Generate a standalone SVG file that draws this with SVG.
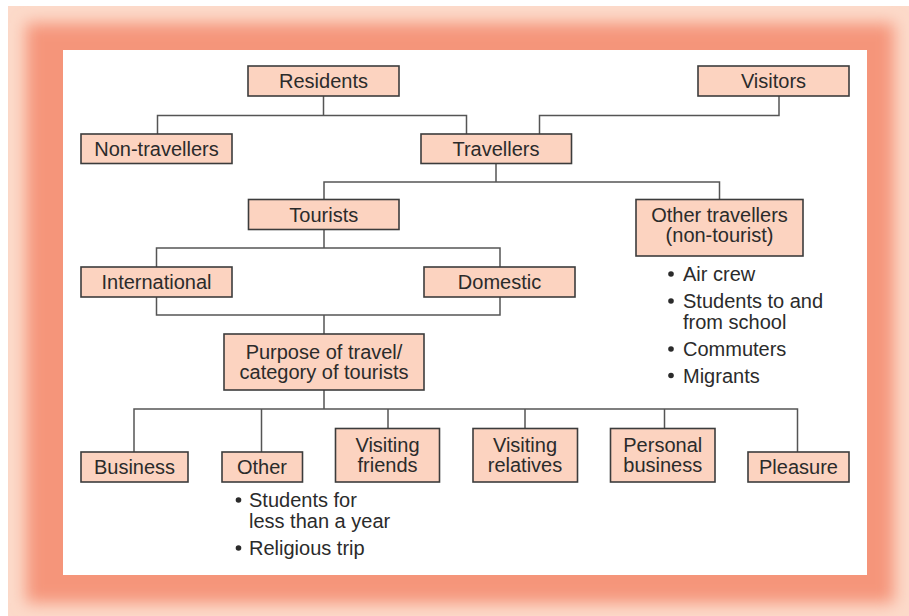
<svg xmlns="http://www.w3.org/2000/svg" width="909" height="616" viewBox="0 0 909 616">
  <defs>
    <filter id="soft" x="-5%" y="-5%" width="110%" height="110%">
      <feGaussianBlur stdDeviation="8"/>
    </filter>
    <clipPath id="frameClip">
      <rect x="8" y="6" width="901" height="610"/>
    </clipPath>
  </defs>
  <style>
    .box { fill: #FCD3C0; stroke: #3c3c3c; stroke-width: 1.6; }
    .lbl { font-family: "Liberation Sans", Arial, sans-serif; font-size: 20px; fill: #2b2b2b; text-anchor: middle; }
    .item { font-family: "Liberation Sans", Arial, sans-serif; font-size: 20px; fill: #2b2b2b; }
    .bul { fill: #2b2b2b; }
    .conn { fill: none; stroke: #555555; stroke-width: 1.5; }
  </style>
  <rect x="0" y="0" width="909" height="616" fill="#ffffff"/>
  <g id="frame">
    <rect x="8" y="6" width="901" height="610" fill="#FCDACA"/>
    <g clip-path="url(#frameClip)">
      <rect x="26" y="23" width="868" height="580" fill="#F5957A" filter="url(#soft)"/>
    </g>
    <rect x="63" y="50" width="804" height="525" fill="#ffffff"/>
  </g>
  <g id="connectors">
    <path class="conn" d="M323.5,96 V115.5 M157.5,134 V115.5 H466.5 V134"/>
    <path class="conn" d="M779,96 V115.5 H539.5 V134"/>
    <path class="conn" d="M496,163.5 V182 M324,199.5 V182 H719.5 V199.5"/>
    <path class="conn" d="M324,229.5 V248 M156.5,267 V248 H500 V267"/>
    <path class="conn" d="M156.5,297 V315 H500 V297 M324,315 V334"/>
    <path class="conn" d="M324,390 V409 M134,452 V409 H797.5 V452 M261.5,409 V452 M388,409 V428.5 M525,409 V428.5 M664.5,409 V428.5"/>
  </g>
  <g id="residents">
    <rect class="box" x="248" y="66" width="151" height="30"/>
    <text class="lbl" x="323.5" y="88">Residents</text>
  </g>
  <g id="visitors">
    <rect class="box" x="698" y="66" width="151" height="30"/>
    <text class="lbl" x="773.5" y="88">Visitors</text>
  </g>
  <g id="non-travellers">
    <rect class="box" x="81" y="134" width="151" height="29.5"/>
    <text class="lbl" x="156.5" y="155.5">Non-travellers</text>
  </g>
  <g id="travellers">
    <rect class="box" x="421" y="134" width="150.5" height="29.5"/>
    <text class="lbl" x="496" y="155.5">Travellers</text>
  </g>
  <g id="tourists">
    <rect class="box" x="248.5" y="199.5" width="150.5" height="30"/>
    <text class="lbl" x="323.75" y="221.5">Tourists</text>
  </g>
  <g id="other-travellers">
    <rect class="box" x="636" y="199.5" width="167" height="56.5"/>
    <text class="lbl" x="719.5" y="222">Other travellers</text>
    <text class="lbl" x="719.5" y="242">(non-tourist)</text>
    <circle class="bul" cx="671" cy="274" r="2.8"/>
    <text class="item" x="683" y="281">Air crew</text>
    <circle class="bul" cx="671" cy="301" r="2.8"/>
    <text class="item" x="683" y="308">Students to and</text>
    <text class="item" x="683" y="328.5">from school</text>
    <circle class="bul" cx="671" cy="349" r="2.8"/>
    <text class="item" x="683" y="356">Commuters</text>
    <circle class="bul" cx="671" cy="375.5" r="2.8"/>
    <text class="item" x="683" y="382.5">Migrants</text>
  </g>
  <g id="international">
    <rect class="box" x="81" y="267" width="151" height="30"/>
    <text class="lbl" x="156.5" y="289">International</text>
  </g>
  <g id="domestic">
    <rect class="box" x="424" y="267" width="151" height="30"/>
    <text class="lbl" x="499.5" y="289">Domestic</text>
  </g>
  <g id="purpose">
    <rect class="box" x="224" y="334" width="200" height="56"/>
    <text class="lbl" x="324" y="359">Purpose of travel/</text>
    <text class="lbl" x="324" y="379">category of tourists</text>
  </g>
  <g id="business">
    <rect class="box" x="81" y="452" width="107" height="30"/>
    <text class="lbl" x="134.5" y="474">Business</text>
  </g>
  <g id="other">
    <rect class="box" x="222" y="452" width="80.5" height="30"/>
    <text class="lbl" x="262" y="474">Other</text>
    <circle class="bul" cx="238.5" cy="500" r="2.8"/>
    <text class="item" x="249" y="507">Students for</text>
    <text class="item" x="249" y="528">less than a year</text>
    <circle class="bul" cx="238.5" cy="548" r="2.8"/>
    <text class="item" x="249" y="555">Religious trip</text>
  </g>
  <g id="visiting-friends">
    <rect class="box" x="335.5" y="428.5" width="104" height="53.5"/>
    <text class="lbl" x="387.5" y="452">Visiting</text>
    <text class="lbl" x="387.5" y="472">friends</text>
  </g>
  <g id="visiting-relatives">
    <rect class="box" x="473" y="428.5" width="104.5" height="53.5"/>
    <text class="lbl" x="525" y="452">Visiting</text>
    <text class="lbl" x="525" y="472">relatives</text>
  </g>
  <g id="personal-business">
    <rect class="box" x="610.5" y="428.5" width="104.5" height="53.5"/>
    <text class="lbl" x="662.75" y="452">Personal</text>
    <text class="lbl" x="662.75" y="472">business</text>
  </g>
  <g id="pleasure">
    <rect class="box" x="748" y="452" width="101" height="30"/>
    <text class="lbl" x="798.5" y="474">Pleasure</text>
  </g>
</svg>
